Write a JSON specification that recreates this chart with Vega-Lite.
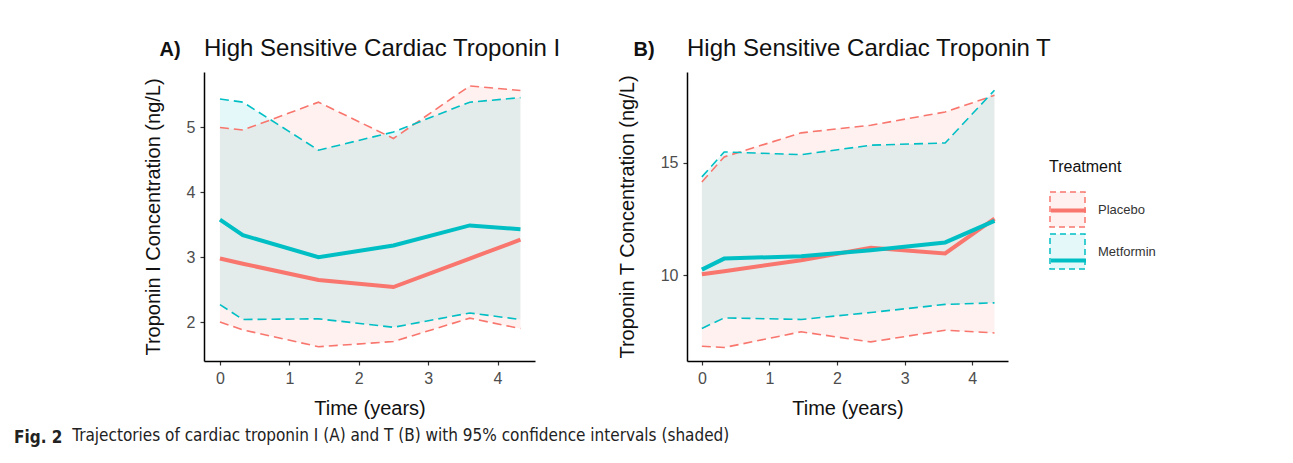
{
  "$schema": "https://vega.github.io/schema/vega-lite/v6.json",
  "background": "white",
  "padding": {"left": 14, "top": 37, "right": 5, "bottom": 5},
  "datasets": {
    "troponinI": [
      {"Treatment": "Placebo", "time": 0, "mean": 2.98, "lower": 2.0, "upper": 5.0},
      {"Treatment": "Placebo", "time": 0.33, "mean": 2.9, "lower": 1.88, "upper": 4.96},
      {"Treatment": "Placebo", "time": 1.42, "mean": 2.65, "lower": 1.62, "upper": 5.39},
      {"Treatment": "Placebo", "time": 2.5, "mean": 2.54, "lower": 1.7, "upper": 4.83},
      {"Treatment": "Placebo", "time": 3.6, "mean": 2.98, "lower": 2.06, "upper": 5.64},
      {"Treatment": "Placebo", "time": 4.33, "mean": 3.27, "lower": 1.9, "upper": 5.57},
      {"Treatment": "Metformin", "time": 0, "mean": 3.58, "lower": 2.27, "upper": 5.44},
      {"Treatment": "Metformin", "time": 0.33, "mean": 3.34, "lower": 2.04, "upper": 5.39},
      {"Treatment": "Metformin", "time": 1.42, "mean": 3.0, "lower": 2.05, "upper": 4.65},
      {"Treatment": "Metformin", "time": 2.5, "mean": 3.18, "lower": 1.92, "upper": 4.93},
      {"Treatment": "Metformin", "time": 3.6, "mean": 3.49, "lower": 2.14, "upper": 5.39},
      {"Treatment": "Metformin", "time": 4.33, "mean": 3.43, "lower": 2.04, "upper": 5.46}
    ],
    "troponinT": [
      {"Treatment": "Placebo", "time": 0, "mean": 10.04, "lower": 6.84, "upper": 14.15},
      {"Treatment": "Placebo", "time": 0.33, "mean": 10.18, "lower": 6.78, "upper": 15.27},
      {"Treatment": "Placebo", "time": 1.47, "mean": 10.67, "lower": 7.48, "upper": 16.34},
      {"Treatment": "Placebo", "time": 2.5, "mean": 11.22, "lower": 7.03, "upper": 16.68},
      {"Treatment": "Placebo", "time": 3.6, "mean": 10.97, "lower": 7.55, "upper": 17.27},
      {"Treatment": "Placebo", "time": 4.33, "mean": 12.52, "lower": 7.43, "upper": 18.01},
      {"Treatment": "Metformin", "time": 0, "mean": 10.25, "lower": 7.63, "upper": 14.38},
      {"Treatment": "Metformin", "time": 0.33, "mean": 10.74, "lower": 8.1, "upper": 15.49},
      {"Treatment": "Metformin", "time": 1.47, "mean": 10.85, "lower": 8.03, "upper": 15.37},
      {"Treatment": "Metformin", "time": 2.5, "mean": 11.11, "lower": 8.34, "upper": 15.79},
      {"Treatment": "Metformin", "time": 3.6, "mean": 11.46, "lower": 8.7, "upper": 15.89},
      {"Treatment": "Metformin", "time": 4.33, "mean": 12.42, "lower": 8.77, "upper": 18.24}
    ]
  },
  "title": {
    "text": "Fig. 2",
    "subtitle": "\u200b\u00a0\u00a0\u00a0\u00a0\u00a0\u00a0\u00a0\u00a0\u00a0\u00a0\u00a0\u00a0Trajectories of cardiac troponin I (A) and T (B) with 95% confidence intervals (shaded)",
    "orient": "bottom",
    "anchor": "start",
    "frame": "bounds",
    "dx": -129,
    "offset": 12,
    "font": "Liberation Sans Narrow, DejaVu Sans Condensed, Liberation Sans",
    "fontSize": 17,
    "fontWeight": "bold",
    "color": "#222222",
    "subtitleFont": "Liberation Sans Narrow, DejaVu Sans Condensed, Liberation Sans",
    "subtitleFontSize": 17,
    "subtitleFontWeight": "normal",
    "subtitleColor": "#222222",
    "subtitlePadding": -19
  },
  "spacing": 56,
  "hconcat": [
    {
      "width": 331,
      "height": 289,
      "data": {"name": "troponinI"},
      "title": {"text": "High Sensitive Cardiac Troponin I", "anchor": "start", "frame": "group", "fontSize": 24, "fontWeight": "normal", "color": "#111111", "offset": -22},
      "resolve": {"axis": {"x": "independent"}},
      "layer": [
        {
          "mark": {"type": "area", "fillOpacity": 0.1},
          "encoding": {
            "x": {"field": "time", "type": "quantitative", "scale": {"domain": [-0.23, 4.54], "nice": false, "zero": false},
                  "axis": {"orient": "top", "title": "A)", "labels": false, "ticks": false, "domain": false, "titleFontWeight": "bold", "titleFontSize": 20, "titleX": -45, "titleY": -17, "titleAlign": "left", "titleBaseline": "alphabetic", "titleAngle": 0}},
            "y": {"field": "lower", "type": "quantitative", "scale": {"domain": [1.4, 5.855], "nice": false, "zero": false}, "title": "Troponin I Concentration (ng/L)", "axis": {"values": [2, 3, 4, 5], "format": "d"}},
            "y2": {"field": "upper"},
            "fill": {"field": "Treatment", "type": "nominal", "sort": "descending", "scale": {"range": ["#F8766D", "#00BFC4"]}, "legend": null}
          }
        },
        {
          "layer": [
            {
              "mark": {"type": "line", "strokeDash": [9, 5], "strokeWidth": 1.6},
              "encoding": {
                "x": {"field": "time", "type": "quantitative", "scale": {"domain": [-0.23, 4.54], "nice": false, "zero": false}, "title": "Time (years)", "axis": {"values": [0, 1, 2, 3, 4], "format": "d"}},
                "y": {"field": "upper", "type": "quantitative", "scale": {"domain": [1.4, 5.855], "nice": false, "zero": false}, "title": "Troponin I Concentration (ng/L)"},
                "stroke": {"field": "Treatment", "type": "nominal", "sort": "descending", "scale": {"range": ["#F8766D", "#00BFC4"]},
                           "legend": {"symbolType": "M-1,-1H1V1H-1Z", "symbolDash": [6, 4], "symbolStrokeWidth": 1.5, "encode": {"symbols": {"update": {"fill": {"scale": "stroke", "field": "value"}, "fillOpacity": {"value": 0.1}, "opacity": {"value": 1}}}}}}
              }
            },
            {
              "mark": {"type": "line", "strokeDash": [9, 5], "strokeWidth": 1.6},
              "encoding": {
                "x": {"field": "time", "type": "quantitative", "title": "Time (years)"},
                "y": {"field": "lower", "type": "quantitative", "title": "Troponin I Concentration (ng/L)"},
                "stroke": {"field": "Treatment", "type": "nominal", "sort": "descending"}
              }
            },
            {
              "mark": {"type": "line", "strokeWidth": 4},
              "encoding": {
                "x": {"field": "time", "type": "quantitative", "title": "Time (years)"},
                "y": {"field": "mean", "type": "quantitative", "title": "Troponin I Concentration (ng/L)"},
                "color": {"field": "Treatment", "type": "nominal", "scale": {"domain": ["Placebo", "Metformin"], "range": ["#F8766D", "#00BFC4"]},
                          "legend": {"symbolType": "M-0.93,-0.93M0.93,0.93M-1,0H1", "symbolStrokeWidth": 4, "labelOpacity": 0, "titleOpacity": 0, "labelColor": "transparent", "titleColor": "transparent"}}
              }
            }
          ]
        }
      ]
    },
    {
      "width": 321,
      "height": 289,
      "data": {"name": "troponinT"},
      "title": {"text": "High Sensitive Cardiac Troponin T", "anchor": "start", "frame": "group", "fontSize": 24, "fontWeight": "normal", "color": "#111111", "offset": -22},
      "resolve": {"axis": {"x": "independent"}},
      "layer": [
        {
          "mark": {"type": "area", "fillOpacity": 0.1},
          "encoding": {
            "x": {"field": "time", "type": "quantitative", "scale": {"domain": [-0.22, 4.53], "nice": false, "zero": false},
                  "axis": {"orient": "top", "title": "B)", "labels": false, "ticks": false, "domain": false, "titleFontWeight": "bold", "titleFontSize": 20, "titleX": -54, "titleY": -17, "titleAlign": "left", "titleBaseline": "alphabetic", "titleAngle": 0}},
            "y": {"field": "lower", "type": "quantitative", "scale": {"domain": [6.18, 19.05], "nice": false, "zero": false}, "title": "Troponin T Concentration (ng/L)", "axis": {"values": [10, 15], "format": "d"}},
            "y2": {"field": "upper"},
            "fill": {"field": "Treatment", "type": "nominal", "sort": "descending", "scale": {"range": ["#F8766D", "#00BFC4"]}, "legend": null}
          }
        },
        {
          "layer": [
            {
              "mark": {"type": "line", "strokeDash": [9, 5], "strokeWidth": 1.6},
              "encoding": {
                "x": {"field": "time", "type": "quantitative", "scale": {"domain": [-0.22, 4.53], "nice": false, "zero": false}, "title": "Time (years)", "axis": {"values": [0, 1, 2, 3, 4], "format": "d"}},
                "y": {"field": "upper", "type": "quantitative", "scale": {"domain": [6.18, 19.05], "nice": false, "zero": false}, "title": "Troponin T Concentration (ng/L)"},
                "stroke": {"field": "Treatment", "type": "nominal", "sort": "descending", "scale": {"range": ["#F8766D", "#00BFC4"]},
                           "legend": {"symbolType": "M-1,-1H1V1H-1Z", "symbolDash": [6, 4], "symbolStrokeWidth": 1.5, "encode": {"symbols": {"update": {"fill": {"scale": "stroke", "field": "value"}, "fillOpacity": {"value": 0.1}, "opacity": {"value": 1}}}}}}
              }
            },
            {
              "mark": {"type": "line", "strokeDash": [9, 5], "strokeWidth": 1.6},
              "encoding": {
                "x": {"field": "time", "type": "quantitative", "title": "Time (years)"},
                "y": {"field": "lower", "type": "quantitative", "title": "Troponin T Concentration (ng/L)"},
                "stroke": {"field": "Treatment", "type": "nominal", "sort": "descending"}
              }
            },
            {
              "mark": {"type": "line", "strokeWidth": 4},
              "encoding": {
                "x": {"field": "time", "type": "quantitative", "title": "Time (years)"},
                "y": {"field": "mean", "type": "quantitative", "title": "Troponin T Concentration (ng/L)"},
                "color": {"field": "Treatment", "type": "nominal", "scale": {"domain": ["Placebo", "Metformin"], "range": ["#F8766D", "#00BFC4"]},
                          "legend": {"symbolType": "M-0.93,-0.93M0.93,0.93M-1,0H1", "symbolStrokeWidth": 4, "labelOpacity": 0, "titleOpacity": 0, "labelColor": "transparent", "titleColor": "transparent"}}
              }
            }
          ]
        }
      ]
    }
  ],
  "config": {
    "font": "Liberation Sans",
    "view": {"stroke": null},
    "axis": {
      "grid": false,
      "domainColor": "#000000",
      "domainWidth": 1.5,
      "tickColor": "#333333",
      "tickWidth": 1.2,
      "tickSize": 4,
      "labelColor": "#4d4d4d",
      "labelFontSize": 16,
      "labelFont": "Liberation Sans",
      "labelPadding": 5,
      "titleFont": "Liberation Sans",
      "titleFontSize": 20,
      "titleFontWeight": "normal",
      "titleColor": "#111111"
    },
    "axisX": {"titlePadding": 12},
    "axisY": {"titlePadding": 23},
    "legend": {
      "orient": "none",
      "legendX": 845,
      "legendY": 87,
      "padding": 0,
      "symbolSize": 1225,
      "rowPadding": 1,
      "labelOffset": 12,
      "labelFontSize": 13,
      "labelColor": "#333333",
      "titleFontSize": 16,
      "titleFontWeight": "normal",
      "titleColor": "#111111",
      "titlePadding": 16
    }
  }
}
